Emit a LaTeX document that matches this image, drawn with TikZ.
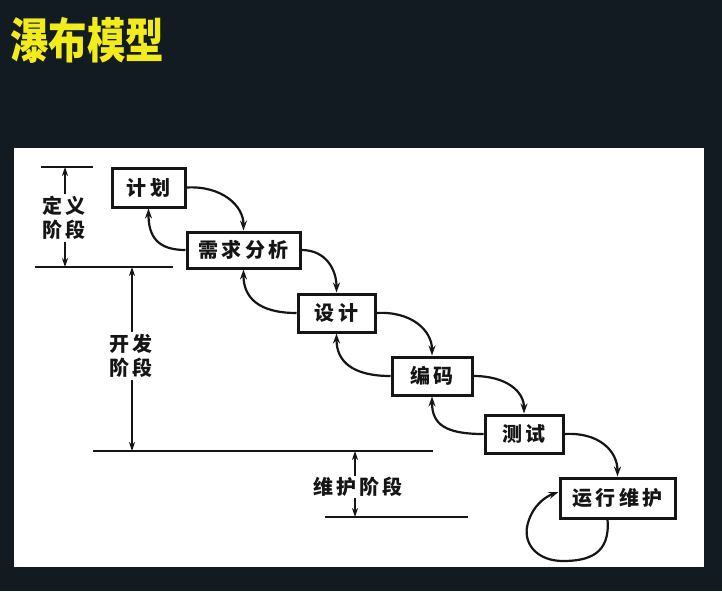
\documentclass[tikz,border=0pt]{standalone}
\usepackage{fontspec}
\newfontfamily\cjk[LetterSpace=16]{Noto Sans CJK SC}
\newfontfamily\cjktitle{Noto Sans CJK SC}
\usetikzlibrary{arrows.meta}
\definecolor{bgdark}{HTML}{131B22}
\definecolor{titleyellow}{HTML}{F2EC1C}
\definecolor{ink}{HTML}{151515}
\begin{document}
\begin{tikzpicture}[x=1pt,y=-1pt,
  box/.style={draw=ink, line width=3pt, fill=white, inner sep=0pt,
    font=\cjk\bfseries\fontsize{20}{22}\selectfont, text=ink},
  conn/.style={draw=ink, line width=2.2pt, -{Stealth[length=10pt,width=7pt]}},
  dimline/.style={draw=ink, line width=2.2pt},
  dimarrow/.style={draw=ink, line width=1.9pt, -{Stealth[length=9pt,width=6pt]}},
  lab/.style={font=\cjk\bfseries\fontsize{20}{24}\selectfont, text=ink, align=center, inner sep=0pt}
]
\useasboundingbox (0,0) rectangle (722,591);
\fill[bgdark] (0,0) rectangle (722,591);
\fill[white] (14,148) rectangle (704,567);

% title
\node[anchor=west, inner sep=0pt, text=titleyellow,
      font=\cjktitle\bfseries\fontsize{48}{50}\selectfont] (title) at (10,40)
      {\scalebox{0.8}[1]{瀑布模型}};

% boxes
\node[box, minimum width=73pt, minimum height=39pt] (jh) at (148.5,187.5) {计划};
\node[box, minimum width=113pt, minimum height=36pt] (xq) at (243.5,250) {需求分析};
\node[box, minimum width=77pt, minimum height=38pt] (sj) at (336.5,313) {设计};
\node[box, minimum width=80pt, minimum height=38pt] (bm) at (432,376) {编码};
\node[box, minimum width=78pt, minimum height=38pt] (cs) at (524,434) {测试};
\node[box, minimum width=115pt, minimum height=40pt] (yx) at (617.5,498) {运行维护};

% forward curves
\draw[conn] (jh.east) .. controls +(35,-2) and +(0,-25) .. (xq.north);
\draw[conn] (xq.east) .. controls +(25,0) and +(0,-22) .. (sj.north);
\draw[conn] (sj.east) .. controls +(35,-2) and +(0,-25) .. (bm.north);
\draw[conn] (bm.east) .. controls +(33,0) and +(0,-22) .. (cs.north);
\draw[conn] (cs.east) .. controls +(35,-2) and +(0,-25) .. (yx.north);
% backward curves
\draw[conn] (xq.west) .. controls +(-28,0) and +(0,28) .. (jh.south);
\draw[conn] (sj.west) .. controls +(-38,0) and +(0,28) .. (xq.south);
\draw[conn] (bm.west) .. controls +(-38,0) and +(0,28) .. (sj.south);
\draw[conn] (cs.west) .. controls +(-38,0) and +(0,28) .. (bm.south);
% self loop
\draw[conn] ([xshift=-10pt]yx.south) .. controls +(3,35) and +(25,0) .. (563,561)
   .. controls +(-25,0) and +(-3,18) .. (527,527)
   .. controls +(4,-20) and +(-14,5) .. ([yshift=6pt]yx.west);

% phase dimension lines
\coordinate (l1a) at (41,167);  \coordinate (l1b) at (93,167);
\coordinate (l2a) at (35,267);  \coordinate (l2b) at (173,267);
\coordinate (l3a) at (93,451);  \coordinate (l3b) at (433,451);
\coordinate (l4a) at (325,517); \coordinate (l4b) at (468,517);
\draw[dimline] (l1a) -- (l1b);
\draw[dimline] (l2a) -- (l2b);
\draw[dimline] (l3a) -- (l3b);
\draw[dimline] (l4a) -- (l4b);

% 定义阶段
\node[lab] (dy) at (64,218) {定义\\阶段};
\coordinate (dyt) at (65,167); \coordinate (dyb) at (65,267);
\draw[dimarrow] (dy.north -| dyt) ++(0,-2) coordinate (dy1) -- (dyt);
\draw[dimarrow] (dy.south -| dyb) ++(0,2) coordinate (dy2) -- (dyb);

% 开发阶段
\node[lab] (kf) at (131,356) {开发\\阶段};
\coordinate (kft) at (132,267); \coordinate (kfb) at (132,451);
\draw[dimarrow] (kf.north -| kft) ++(0,-2) coordinate (kf1) -- (kft);
\draw[dimarrow] (kf.south -| kfb) ++(0,2) coordinate (kf2) -- (kfb);

% 维护阶段
\node[lab] (wh) at (358,487) {维护阶段};
\coordinate (wht) at (355,451); \coordinate (whb) at (355,517);
\draw[dimarrow] (wh.north -| wht) ++(0,-1) coordinate (wh1) -- (wht);
\draw[dimarrow] (wh.south -| whb) ++(0,1) coordinate (wh2) -- (whb);
\end{tikzpicture}
\end{document}
